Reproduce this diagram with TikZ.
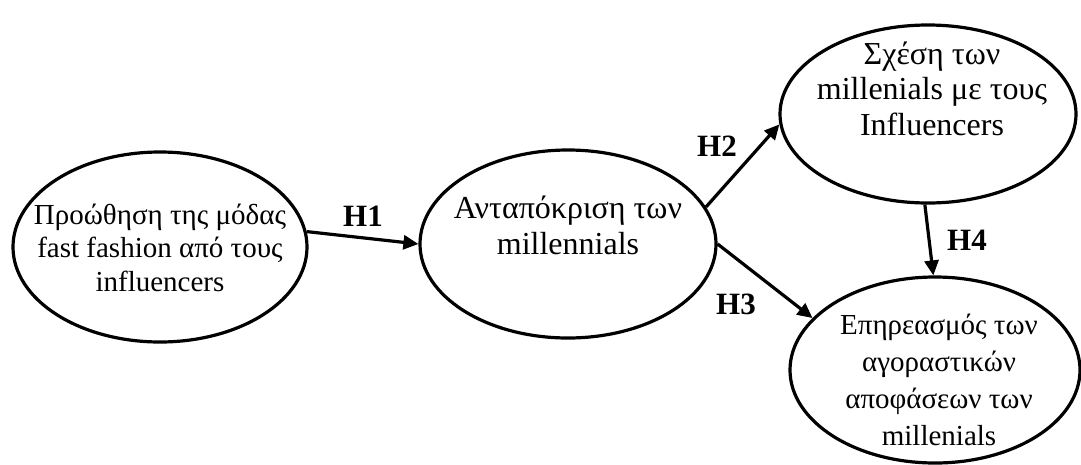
\documentclass[tikz,border=0pt]{standalone}
\usepackage{fontspec}
\setmainfont{Liberation Serif}
\usetikzlibrary{shapes.geometric,arrows.meta}
\tikzset{
  ell/.style={draw=black, ellipse, line width=3.2pt, inner sep=0pt},
  txt/.style={align=center, inner sep=0pt},
  hlab/.style={inner sep=0pt, font=\fontsize{31}{33}\selectfont\bfseries},
  arr/.style={line width=3.2pt, -{Triangle[length=15pt,width=14pt]}}
}
\begin{document}
\begin{tikzpicture}[x=1pt,y=-1pt]
\useasboundingbox (0,0) rectangle (1081,464);
\node[ell, minimum width=294pt, minimum height=190pt] (e1) at (160,247) {};
\node[ell, minimum width=296pt, minimum height=188pt] (e2) at (568,244) {};
\node[ell, minimum width=296pt, minimum height=178pt] (e3) at (928,114) {};
\node[ell, minimum width=290pt, minimum height=186pt] (e4) at (935,370) {};
\node[txt, font=\fontsize{29}{33.3}\selectfont] (t1) at (160,247.7) {Προώθηση της μόδας\\fast fashion από τους\\influencers};
\node[txt, font=\fontsize{32}{36.5}\selectfont] (t2) at (568,225.5) {Ανταπόκριση των\\millennials};
\node[txt, font=\fontsize{32}{35.3}\selectfont] (t3) at (932,88.8) {Σχέση των\\millenials με τους\\Influencers};
\node[txt, font=\fontsize{29}{36.7}\selectfont] (t4) at (939,379.9) {Επηρεασμός των\\αγοραστικών\\αποφάσεων των\\millenials};
\draw[arr] (e1.6) -- (e2.180);
\draw[arr] (e2.15) -- (e3.184);
\draw[arr] (e2.0) -- (e4.157);
\draw[arr] (e3.268) -- (e4.91);
\node[hlab] (h1) at (363,216) {H1};
\node[hlab] (h2) at (717,146) {H2};
\node[hlab] (h3) at (736,304) {H3};
\node[hlab] (h4) at (967,240) {H4};
\end{tikzpicture}
\end{document}
